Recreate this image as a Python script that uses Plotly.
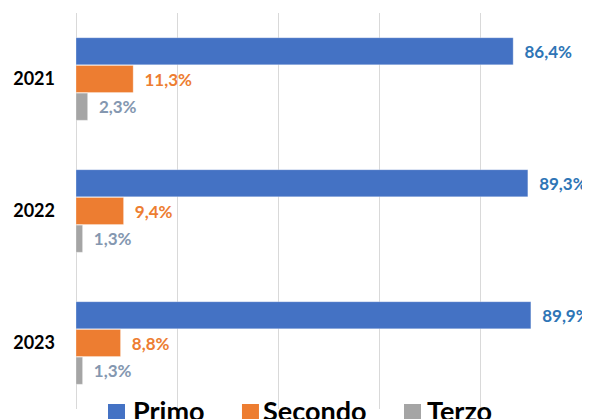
import plotly.graph_objects as go

years = ["2021", "2022", "2023"]
series_names = ["Primo", "Secondo", "Terzo"]
primo = [86.4, 89.3, 89.9]
secondo = [11.3, 9.4, 8.8]
terzo = [2.3, 1.3, 1.3]

bar_colors = ["#4472C4", "#ED7D31", "#A5A5A5"]
label_colors = ["#2E75B6", "#ED7D31", "#8497B0"]

FONT = "Lato, 'Open Sans', sans-serif"

fig = go.Figure()
for name, vals, bc, lc in zip(series_names, [primo, secondo, terzo], bar_colors, label_colors):
    fig.add_trace(go.Bar(
        y=years, x=vals, name=name, orientation="h",
        marker=dict(color=bc, line=dict(color="rgba(255,255,255,0.6)", width=0.5)),
        texttemplate="\u00a0\u00a0%{x:.1f}%",
        textposition="outside",
        textfont=dict(family=FONT, size=17, color=lc, weight="bold"),
        constraintext="none",
        cliponaxis=False,
        hoverinfo="skip",
        showlegend=False,
    ))

# legend drawn as shapes + annotations (larger swatches like the original)
legend_sq_x = [0.0632, 0.3280, 0.6482]
legend_tx_x = [0.1087, 0.3656, 0.6897]
SQ_W = 17 / 506
for name, c, sx, tx in zip(series_names, bar_colors, legend_sq_x, legend_tx_x):
    fig.add_shape(type="rect", xref="paper", yref="paper",
                  x0=sx, x1=sx + SQ_W, y0=-0.0303, y1=0.0126,
                  fillcolor=c, line=dict(width=0), layer="above")
    fig.add_annotation(text=name, xref="paper", yref="paper", x=tx, y=-0.003,
                       xanchor="left", yanchor="middle", showarrow=False,
                       font=dict(family=FONT, size=27, color="black", weight="bold"))

# page body has an 8px margin, so the figure is 8px smaller on each of left/top
fig.update_layout(
    width=582, height=411,
    margin=dict(l=68, r=8, t=5, b=10, autoexpand=False),
    paper_bgcolor="white", plot_bgcolor="white",
    barmode="group", bargap=0.37, bargroupgap=0.02,
    separators=",.",
    font=dict(family=FONT),
    showlegend=False,
    xaxis=dict(range=[0, 100], dtick=20, showgrid=True, gridcolor="#D9D9D9", gridwidth=1,
               zeroline=True, zerolinecolor="#D9D9D9", zerolinewidth=1,
               showticklabels=False, showline=False, fixedrange=True, automargin=False),
    yaxis=dict(autorange="reversed", showgrid=False, showline=False, ticks="",
               tickfont=dict(family=FONT, size=18, color="black", weight="bold"),
               ticklabelstandoff=20, automargin=False),
)

fig.write_html("out.html")
